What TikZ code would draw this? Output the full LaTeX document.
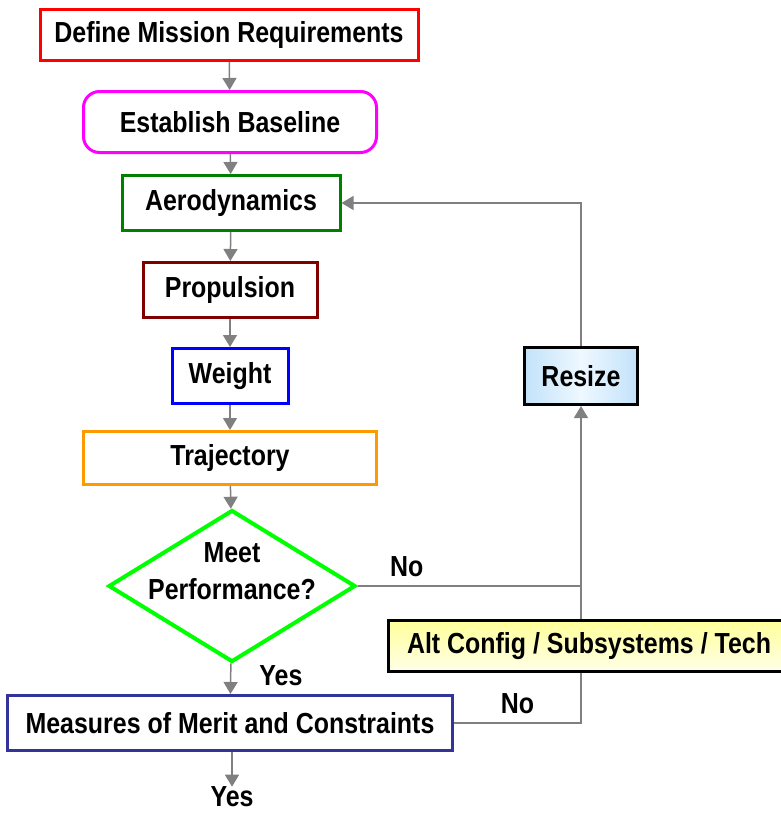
\documentclass[tikz,border=0pt]{standalone}
\usepackage{fontspec}
\setmainfont{Liberation Sans}[FakeStretch=0.86]
\usetikzlibrary{shapes.geometric,arrows.meta}

\definecolor{reqred}{HTML}{FF0000}
\definecolor{basemag}{HTML}{FF00FF}
\definecolor{aerogreen}{HTML}{008000}
\definecolor{propred}{HTML}{800000}
\definecolor{wtblue}{HTML}{0000FF}
\definecolor{trajorange}{HTML}{FF9900}
\definecolor{decgreen}{HTML}{00FF00}
\definecolor{momnavy}{HTML}{333399}
\definecolor{linegray}{HTML}{808080}
\definecolor{resizeblue}{HTML}{C2E2FA}
\definecolor{resizelight}{HTML}{EEF8FF}
\definecolor{altyellow}{HTML}{FFFF99}
\definecolor{altlight}{HTML}{FFFFE8}
\tikzset{
  procbox/.style={
    rectangle, draw=#1, fill=white,
    line width=3pt, inner sep=0pt,
    font=\fontsize{29}{33}\selectfont\bfseries,
    align=center
  },
  procbox/.default=black,
  decbox/.style={
    diamond, draw=decgreen, fill=white,
    line width=4pt, inner sep=0pt,
    minimum width=247pt, minimum height=152pt
  },
  arrow/.style={-{Triangle[length=12pt,width=14pt]}, line width=1.5pt, linegray},
  link/.style={line width=1.5pt, linegray},
  label/.style={font=\fontsize{29}{33}\selectfont\bfseries, text=black, inner sep=0pt}
}

\begin{document}
\begin{tikzpicture}[x=1pt,y=-1pt]

  \clip (0,0) rectangle (781,814);

  % Main chain
  \node[procbox=reqred, minimum width=378pt, minimum height=51pt]
    (req) at (229,35) {Define Mission Requirements};
  \node[procbox=basemag, rounded corners=16pt,
        minimum width=293pt, minimum height=61pt]
    (base) at (230,122) {Establish Baseline};
  \node[procbox=aerogreen, minimum width=218pt, minimum height=55pt]
    (aero) at (231,203) {Aerodynamics};
  \node[procbox=propred, minimum width=174pt, minimum height=55pt]
    (prop) at (230,290) {Propulsion};
  \node[procbox=wtblue, minimum width=116pt, minimum height=55pt]
    (wt) at (230,376) {Weight};
  \node[procbox=trajorange, minimum width=293pt, minimum height=53pt]
    (traj) at (230,458) {Trajectory};

  % Decision
  \node[decbox] (dec) at (232,586) {};
  \node[label, align=center] (dectxt) at (232,571) {Meet\\[4pt]Performance?};

  \node[procbox=momnavy, minimum width=445pt, minimum height=55pt]
    (mom) at (230,723) {Measures of Merit and Constraints};
  \node[label] (yesend) at (232,797) {Yes};

  % Feedback loop
  \node[procbox, left color=resizeblue, right color=resizeblue,
        middle color=resizelight, minimum width=113pt, minimum height=57pt]
    (resize) at (581,376) {Resize};
  \node[procbox, top color=altyellow, bottom color=altlight,
        minimum width=402pt, minimum height=51pt]
    (alt) at (589,646) {Alt Config / Subsystems / Tech};
  \coordinate (alttop) at (resize.south |- alt.north);
  \coordinate (altbot) at (resize.south |- alt.south);
  \coordinate (join) at (dec.east -| resize.south);

  \draw[arrow] (req) -- (base);
  \draw[arrow] (base) -- (aero);
  \draw[arrow] (aero) -- (prop);
  \draw[arrow] (prop) -- (wt);
  \draw[arrow] (wt) -- (traj);
  \draw[arrow] (traj) -- (dec);
  \draw[arrow] (dec) -- (mom)
    node[label, pos=0.4, right=28pt] (yesdec) {Yes};
  \draw[arrow] (mom.south -| yesend) -- (yesend);

  \draw[link] (dec.east) -- (join)
    node[label, pos=0.22, above=8pt] (nodec) {No};
  \draw[link] (mom.east) -| (altbot)
    node[label, pos=0.25, above=8pt] (nomom) {No};
  \draw[arrow] (alttop) -- (resize.south);
  \draw[arrow] (resize.north) |- (aero.east);

\end{tikzpicture}
\end{document}
